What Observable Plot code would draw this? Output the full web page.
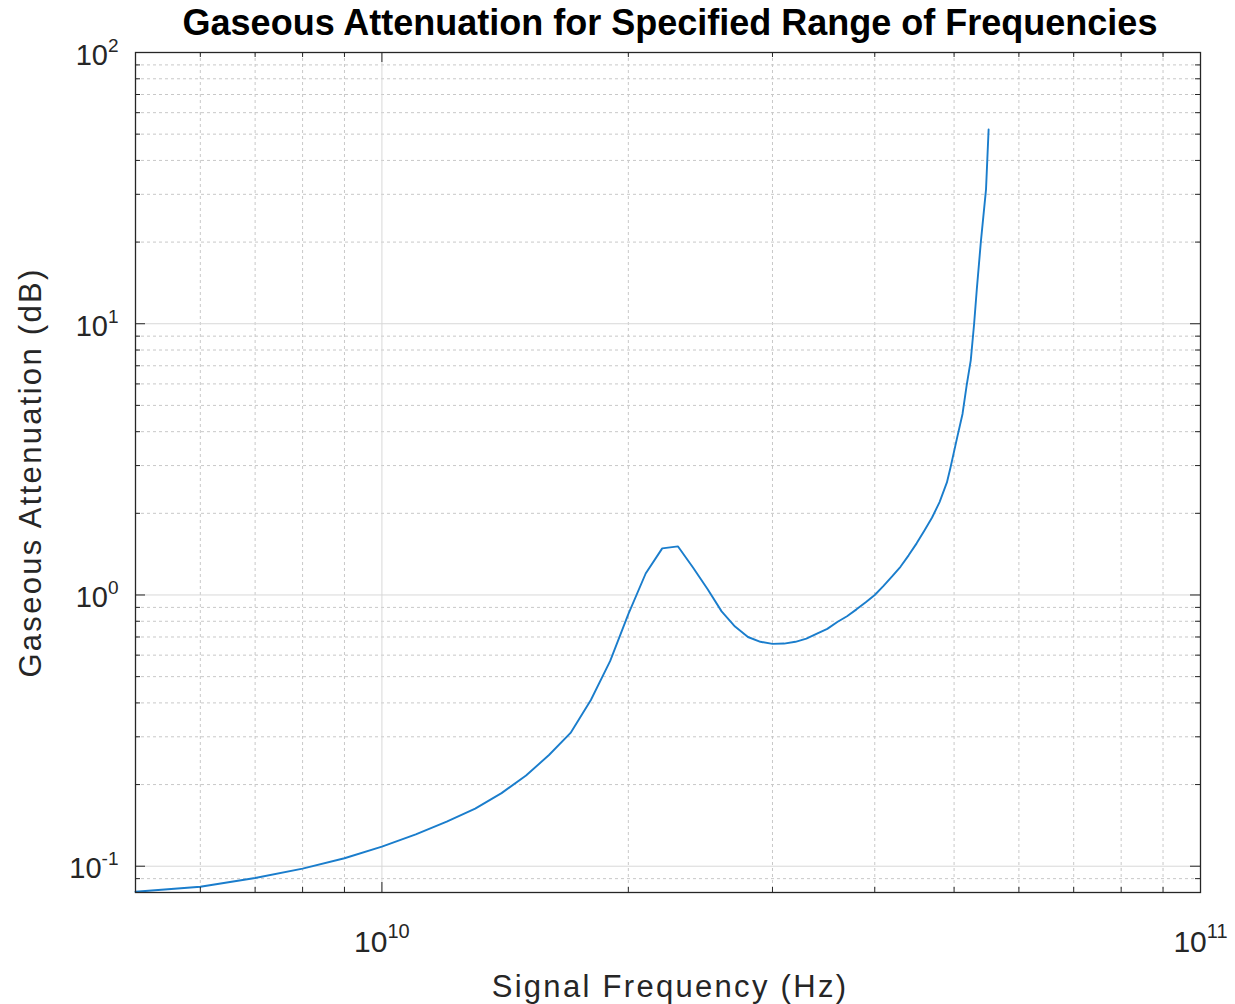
<!DOCTYPE html>
<html>
<head>
<meta charset="utf-8">
<script src="https://cdn.jsdelivr.net/npm/d3@7"></script>
<script src="https://cdn.jsdelivr.net/npm/@observablehq/plot@0.6"></script>
<style>
  html, body { margin: 0; padding: 0; background: #fff; }
  #chart svg { display: block; }
</style>
</head>
<body>
<div id="chart"></div>
<script>
// ---- Data ----
const frequencyHz = [
  5e9, 6e9, 7e9, 8e9, 9e9, 10e9, 11e9, 12e9, 13e9, 14e9, 15e9, 16e9, 17e9, 18e9, 19e9,
  20e9, 21e9, 22e9, 23e9, 24e9, 25e9, 26e9, 27e9, 28e9, 29e9, 30e9, 31e9, 32e9, 33e9, 34e9,
  35e9, 36e9, 37e9, 38e9, 39e9, 40e9, 41e9, 42e9, 43e9, 44e9, 45e9, 46e9, 47e9, 48e9, 49e9,
  49.5e9, 50.4e9, 51.2e9, 51.8e9, 52.4e9, 52.9e9, 53.3e9, 53.9e9, 54.7e9, 55.1e9
];
const attenuationDb = [
  0.0805, 0.084, 0.0905, 0.098, 0.107, 0.118, 0.131, 0.146, 0.163, 0.186, 0.216, 0.257, 0.31, 0.41, 0.57,
  0.85, 1.2, 1.485, 1.51, 1.26, 1.05, 0.87, 0.765, 0.70, 0.672, 0.66, 0.662, 0.672, 0.69, 0.72,
  0.75, 0.795, 0.835, 0.885, 0.94, 1.0, 1.08, 1.17, 1.27, 1.40, 1.55, 1.73, 1.93, 2.2, 2.6,
  2.95, 3.77, 4.65, 5.93, 7.33, 10, 13.4, 19.9, 31.3, 52
];
const xMajorTicks = [1e10, 1e11];
const xMinorTicks = [6e9, 7e9, 8e9, 9e9, 2e10, 3e10, 4e10, 5e10, 6e10, 7e10, 8e10, 9e10];
const yMajorTicks = [0.1, 1, 10, 100];
const yMinorTicks = [0.09, 0.2, 0.3, 0.4, 0.5, 0.6, 0.7, 0.8, 0.9, 2, 3, 4, 5, 6, 7, 8, 9, 20, 30, 40, 50, 60, 70, 80, 90];
const tickLabelText = {1e10: "10^10", 1e11: "10^11", 0.1: "10^-1", 1: "10^0", 10: "10^1", 100: "10^2"};

const titleText = "Gaseous Attenuation for Specified Range of Frequencies";
const xLabelText = "Signal Frequency (Hz)";
const yLabelText = "Gaseous Attenuation (dB)";

const data = frequencyHz.map((f, i) => ({f, a: attenuationDb[i]}));

const W = 1235, H = 1004;
const mT = 52, mB = 112, mL = 135, mR = 35;
const innerH = H - mT - mB;
const innerW = W - mL - mR;
const axisColor = "#262626";
const font = "'Liberation Sans', Arial, Helvetica, sans-serif";

const chart = Plot.plot({
  width: W,
  height: H,
  marginTop: mT,
  marginBottom: mB,
  marginLeft: mL,
  marginRight: mR,
  style: {fontFamily: font, background: "#fff", color: axisColor},
  x: {type: "log", domain: [5e9, 1e11]},
  y: {type: "log", domain: [0.08, 100]},
  marks: [
    // minor grid (dotted)
    Plot.ruleX(xMinorTicks, {x: d => d, stroke: "#c8c8c8", strokeWidth: 1, strokeDasharray: "3,3"}),
    Plot.ruleY(yMinorTicks, {y: d => d, stroke: "#c8c8c8", strokeWidth: 1, strokeDasharray: "3,3"}),
    // major grid (solid)
    Plot.ruleX(xMajorTicks, {x: d => d, stroke: "#d8d8d8", strokeWidth: 1}),
    Plot.ruleY(yMajorTicks, {y: d => d, stroke: "#d8d8d8", strokeWidth: 1}),
    // curve
    Plot.line(data, {x: "f", y: "a", stroke: "#1a7dcc", strokeWidth: 1.9}),
    // frame
    Plot.frame({stroke: axisColor, strokeWidth: 1.3}),
    // inward ticks: bottom & top (major)
    Plot.ruleX(xMajorTicks, {x: d => d, stroke: axisColor, insetTop: innerH - 10}),
    Plot.ruleX(xMajorTicks, {x: d => d, stroke: axisColor, insetBottom: innerH - 10}),
    // inward ticks: bottom & top (minor)
    Plot.ruleX(xMinorTicks, {x: d => d, stroke: axisColor, insetTop: innerH - 5}),
    Plot.ruleX(xMinorTicks, {x: d => d, stroke: axisColor, insetBottom: innerH - 5}),
    // inward ticks: left & right (major)
    Plot.ruleY(yMajorTicks, {y: d => d, stroke: axisColor, insetRight: innerW - 10}),
    Plot.ruleY(yMajorTicks, {y: d => d, stroke: axisColor, insetLeft: innerW - 10}),
    // inward ticks: left & right (minor)
    Plot.ruleY(yMinorTicks, {y: d => d, stroke: axisColor, insetRight: innerW - 5}),
    Plot.ruleY(yMinorTicks, {y: d => d, stroke: axisColor, insetLeft: innerW - 5}),
    // tick labels
    Plot.axisX(xMajorTicks, {
      anchor: "bottom", tickSize: 0, tickPadding: 38, fontSize: 30,
      tickFormat: d => tickLabelText[d], label: null, fill: axisColor
    }),
    Plot.axisY(yMajorTicks, {
      anchor: "left", tickSize: 0, tickPadding: 17, fontSize: 29,
      tickFormat: d => tickLabelText[d], label: null, fill: axisColor, dy: 3
    }),
    // title & axis labels
    Plot.text([titleText], {
      frameAnchor: "top", lineAnchor: "middle", textAnchor: "middle", dy: -29, dx: 2,
      fontSize: 36, fontWeight: "bold", fill: "#000"
    }),
    Plot.text([xLabelText], {
      frameAnchor: "bottom", lineAnchor: "middle", textAnchor: "middle", dy: 95, dx: 2,
      fontSize: 31, fill: axisColor
    }),
    Plot.text([yLabelText], {
      frameAnchor: "left", lineAnchor: "middle", textAnchor: "middle", dx: -104, rotate: -90,
      fontSize: 31, fill: axisColor
    })
  ]
});

// superscript exponents in tick labels
const ns = "http://www.w3.org/2000/svg";
chart.querySelectorAll('g[aria-label="x-axis tick label"] text, g[aria-label="y-axis tick label"] text').forEach(t => {
  const parts = t.textContent.split("^");
  if (parts.length !== 2) return;
  const isX = t.parentNode.getAttribute("aria-label").startsWith("x");
  while (t.firstChild) t.removeChild(t.firstChild);
  const base = document.createElementNS(ns, "tspan");
  base.textContent = parts[0];
  const sup = document.createElementNS(ns, "tspan");
  sup.textContent = parts[1];
  sup.setAttribute("font-size", isX ? "20" : "19");
  sup.setAttribute("dy", isX ? "-14" : "-13");
  t.appendChild(base);
  t.appendChild(sup);
});
// wider letter spacing for the axis titles, as in the reference
chart.querySelectorAll("text").forEach(t => {
  if (t.textContent === xLabelText || t.textContent === yLabelText) {
    t.setAttribute("letter-spacing", "2.3");
  }
});

document.getElementById("chart").appendChild(chart);
</script>
</body>
</html>
